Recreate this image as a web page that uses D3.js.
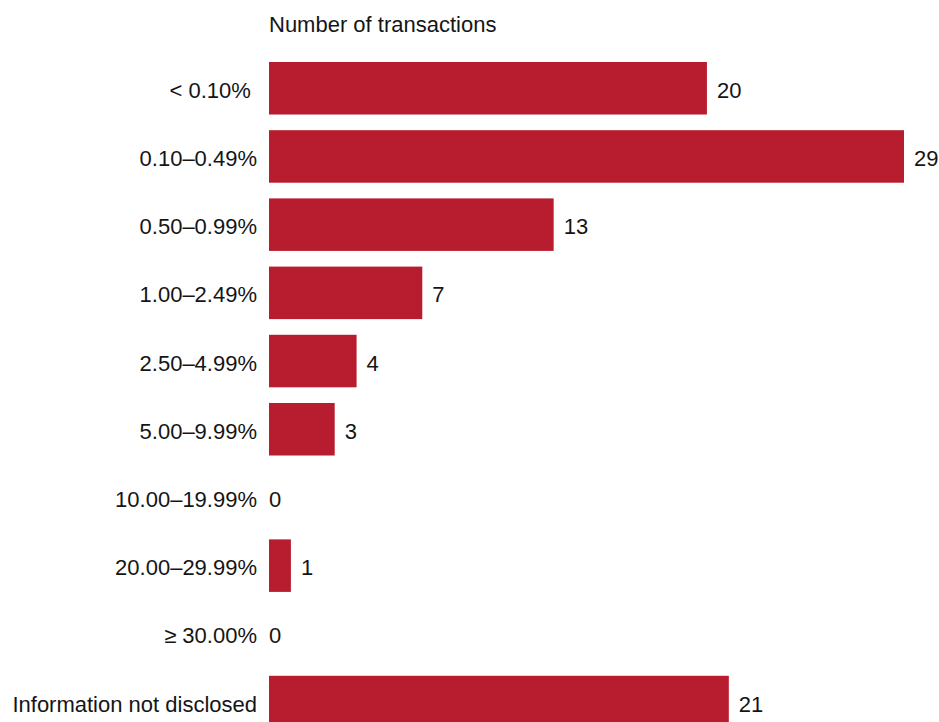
<!DOCTYPE html>
<html>
<head>
<meta charset="utf-8">
<script src="https://cdn.jsdelivr.net/npm/d3@7"></script>
<style>
  html, body { margin: 0; padding: 0; background: #fff; }
  svg { display: block; }
  text { font-family: "Liberation Sans", Arial, Helvetica, sans-serif; fill: #151515; }
</style>
</head>
<body>
<div id="chart"></div>
<script>
// Default-probability buckets and the number of transactions in each
const categories = [
  "< 0.10% ",
  "0.10\u20130.49%",
  "0.50\u20130.99%",
  "1.00\u20132.49%",
  "2.50\u20134.99%",
  "5.00\u20139.99%",
  "10.00\u201319.99%",
  "20.00\u201329.99%",
  "\u2265 30.00%",
  "Information not disclosed"
];
const counts = [20, 29, 13, 7, 4, 3, 0, 1, 0, 21];
const axisTitle = "Number of transactions";

const width = 939, height = 722;
const fontSize = 22;
const svg = d3.select("#chart").append("svg")
  .attr("width", width)
  .attr("height", height);

const x = d3.scaleLinear()
  .domain([0, d3.max(counts)])
  .range([269, 904]);

const y = d3.scaleBand()
  .domain(categories)
  .range([62, 728.3])
  .paddingInner(0.23)
  .paddingOuter(0);

const rows = categories.map((c, i) => ({ cat: c, value: counts[i] }));

svg.append("text")
  .attr("x", x(0))
  .attr("y", 32)
  .attr("font-size", fontSize)
  .text(axisTitle);

svg.append("g").selectAll("rect")
  .data(rows.filter(d => d.value > 0))
  .join("rect")
  .attr("x", x(0))
  .attr("y", d => y(d.cat))
  .attr("width", d => x(d.value) - x(0))
  .attr("height", y.bandwidth())
  .attr("fill", "#b81c2f");

// Category labels, right-aligned against the bar baseline
svg.append("g").selectAll("text")
  .data(rows)
  .join("text")
  .attr("x", 257)
  .attr("y", d => y(d.cat) + y.bandwidth() / 2)
  .attr("dy", "0.43em")
  .attr("text-anchor", "end")
  .attr("font-size", fontSize)
  .style("white-space", "pre")
  .text(d => d.cat);

// Value labels at the end of each bar
svg.append("g").selectAll("text")
  .data(rows)
  .join("text")
  .attr("x", d => x(d.value) + (d.value > 0 ? 10 : 0))
  .attr("y", d => y(d.cat) + y.bandwidth() / 2)
  .attr("dy", "0.43em")
  .attr("font-size", fontSize)
  .text(d => d.value);
</script>
</body>
</html>
